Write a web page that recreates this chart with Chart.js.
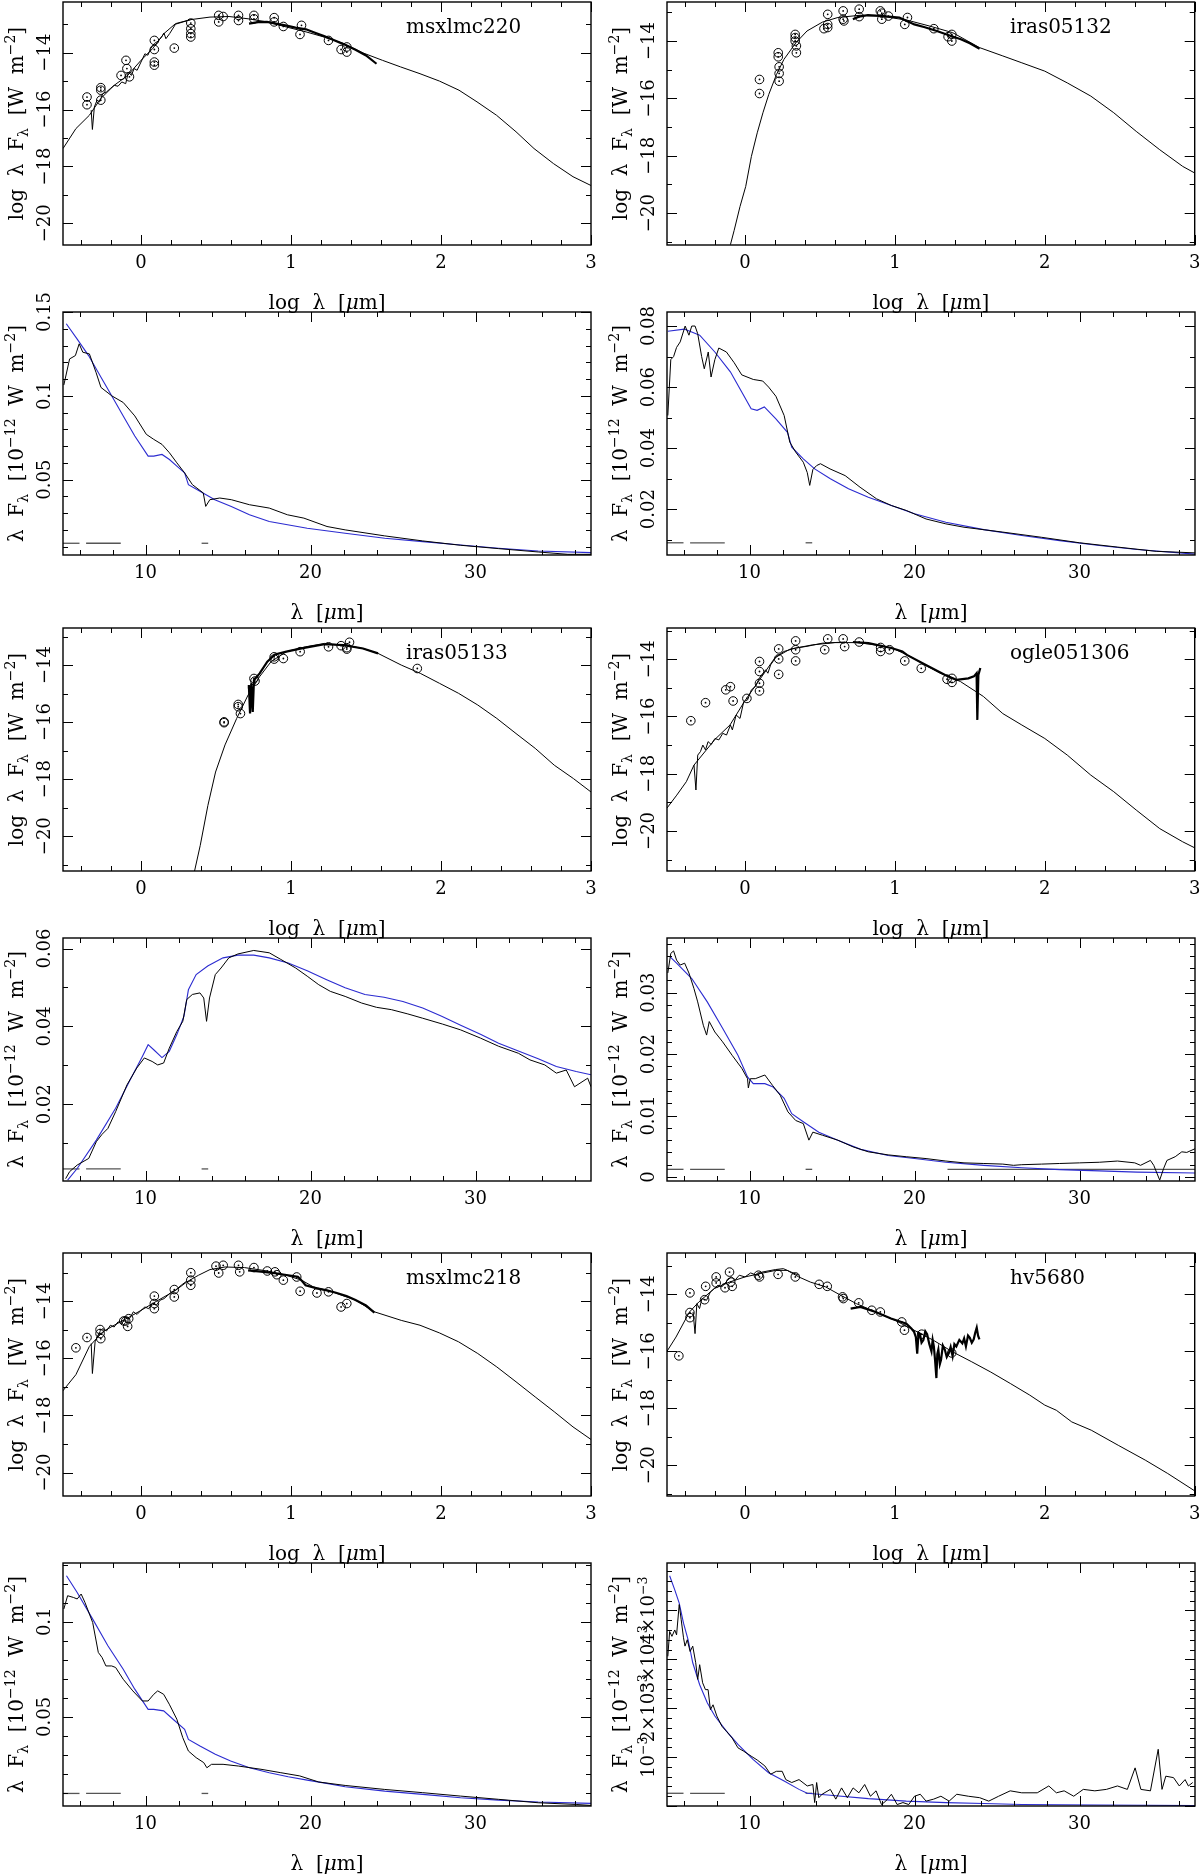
<!DOCTYPE html>
<html>
<head>
<meta charset="utf-8">
<script src="https://cdn.jsdelivr.net/npm/chart.js@4.4.1/dist/chart.umd.min.js"></script>
<style>
body { margin: 0; background: #fff; }
#wrap { position: relative; width: 1200px; height: 1876px; overflow: hidden; background: #fff; }
canvas { position: absolute; }
</style>
</head>
<body>
<div id="wrap"></div>
<script>
// ---- axis ticks / labels ----
const sedXTicks = [0, 1, 2, 3];
const sedXLabels = ['0', '1', '2', '3'];
const sedYTicks = [-20, -18, -16, -14];
const sedYLabels = ['−20', '−18', '−16', '−14'];
const specXTicks = [10, 20, 30];
const specXLabels = ['10', '20', '30'];

// ---- msxlmc220 : SED ----
const msx220Model = [[-0.52,-17.37],[-0.434,-16.67],[-0.344,-16.2],[-0.268,-15.61],[-0.179,-15.15],[-0.089,-14.8],[0,-14.27],[0.077,-13.86],[0.153,-13.33],[0.23,-12.98],[0.33,-12.84],[0.46,-12.75],[0.587,-12.73],[0.714,-12.81],[0.84,-12.92],[0.97,-13.1],[1.1,-13.27],[1.22,-13.45],[1.35,-13.68],[1.48,-14.01],[1.61,-14.27],[1.73,-14.5],[1.86,-14.74],[1.99,-15.0],[2.12,-15.32],[2.24,-15.73],[2.37,-16.2],[2.5,-16.78],[2.62,-17.37],[2.75,-17.9],[2.88,-18.36],[3.0,-18.67]];
const msx220Low = [[-0.332,-16.02],[-0.324,-16.7],[-0.311,-15.91],[-0.293,-15.67],[-0.276,-15.73],[-0.255,-15.44],[-0.23,-15.38],[-0.204,-15.26],[-0.179,-15.15],[-0.153,-15.18],[-0.128,-15.03],[-0.102,-15.09],[-0.084,-14.68],[-0.064,-14.8],[-0.046,-14.56],[-0.026,-14.62],[0,-14.33],[0.026,-14.04],[0.046,-14.09],[0.064,-13.86],[0.089,-13.68],[0.115,-13.59],[0.14,-13.43],[0.153,-13.31],[0.166,-13.51],[0.191,-13.33],[0.23,-13.0],[0.281,-12.92],[0.332,-12.84]];
const msx220Irs = [[0.72,-12.98],[0.78,-12.93],[0.84,-12.92],[0.9,-12.98],[0.97,-13.05],[1.03,-13.12],[1.1,-13.18],[1.16,-13.3],[1.22,-13.42],[1.28,-13.55],[1.35,-13.7],[1.43,-13.9],[1.5,-14.1],[1.57,-14.39]];
const msx220Phot = [[-0.36,-15.56],[-0.36,-15.83],[-0.268,-15.23],[-0.268,-15.32],[-0.268,-15.67],[-0.133,-14.8],[-0.1,-14.27],[-0.094,-14.56],[-0.077,-14.85],[0.089,-13.57],[0.089,-13.89],[0.089,-14.33],[0.089,-14.44],[0.222,-13.84],[0.332,-12.96],[0.332,-13.16],[0.332,-13.33],[0.332,-13.45],[0.518,-12.69],[0.518,-12.92],[0.548,-12.73],[0.65,-12.69],[0.65,-12.87],[0.753,-12.69],[0.753,-12.81],[0.888,-12.77],[0.888,-12.92],[0.949,-13.08],[1.07,-13.04],[1.06,-13.36],[1.25,-13.57],[1.334,-13.89],[1.372,-13.8],[1.372,-13.98]];

// ---- iras05132 : SED ----
const iras132Model = [[-0.097,-21.1],[-0.072,-20.6],[-0.033,-19.77],[0.005,-19.07],[0.043,-18.02],[0.082,-17.2],[0.12,-16.5],[0.159,-15.86],[0.21,-15.17],[0.26,-14.64],[0.34,-14.06],[0.414,-13.65],[0.517,-13.34],[0.62,-13.18],[0.772,-13.1],[0.926,-13.15],[1.08,-13.27],[1.233,-13.48],[1.386,-13.71],[1.565,-14.23],[1.72,-14.52],[1.847,-14.76],[2.0,-15.05],[2.15,-15.46],[2.307,-15.92],[2.46,-16.5],[2.61,-17.15],[2.767,-17.79],[2.92,-18.37],[3.0,-18.6]];
const iras132Irs = [[0.72,-13.24],[0.76,-13.15],[0.82,-13.1],[0.9,-13.12],[1.03,-13.18],[1.13,-13.42],[1.2,-13.52],[1.28,-13.65],[1.36,-13.8],[1.44,-13.94],[1.5,-14.08],[1.565,-14.27]];
const iras132Phot = [[0.097,-15.34],[0.097,-15.83],[0.222,-14.41],[0.222,-14.55],[0.228,-14.9],[0.228,-15.13],[0.228,-15.4],[0.335,-13.77],[0.335,-13.88],[0.335,-14.0],[0.343,-14.17],[0.343,-14.41],[0.527,-13.57],[0.552,-13.07],[0.552,-13.42],[0.552,-13.53],[0.655,-12.95],[0.655,-13.24],[0.66,-13.3],[0.762,-12.89],[0.762,-13.15],[0.903,-12.95],[0.913,-13.03],[0.913,-13.24],[0.957,-13.13],[1.066,-13.42],[1.084,-13.18],[1.26,-13.57],[1.355,-13.85],[1.38,-13.77],[1.38,-14.0]];

// ---- iras05133 : SED ----
const iras133Model = [[0.357,-21.22],[0.395,-20.32],[0.446,-18.92],[0.497,-17.75],[0.56,-16.8],[0.638,-15.87],[0.714,-15.05],[0.79,-14.41],[0.867,-13.88],[0.969,-13.53],[1.097,-13.36],[1.224,-13.24],[1.352,-13.3],[1.48,-13.42],[1.58,-13.59],[1.735,-14.0],[1.862,-14.29],[1.99,-14.64],[2.117,-14.99],[2.245,-15.4],[2.372,-15.87],[2.5,-16.4],[2.628,-16.92],[2.755,-17.51],[2.883,-17.98],[3.0,-18.45]];
const iras133Irs = [[0.714,-14.82],[0.719,-14.7],[0.727,-15.7],[0.735,-14.64],[0.745,-15.64],[0.753,-14.53],[0.791,-14.29],[0.842,-13.88],[0.893,-13.63],[0.969,-13.53],[1.046,-13.44],[1.097,-13.39],[1.224,-13.27],[1.352,-13.3],[1.48,-13.42],[1.58,-13.59]];
const iras133Phot = [[0.554,-15.99],[0.554,-16.02],[0.648,-15.38],[0.648,-15.46],[0.663,-15.7],[0.753,-14.47],[0.76,-14.56],[0.888,-13.71],[0.888,-13.79],[0.949,-13.77],[1.061,-13.53],[1.25,-13.36],[1.334,-13.32],[1.372,-13.39],[1.372,-13.44],[1.39,-13.2],[1.842,-14.12]];

// ---- ogle051306 : SED ----
const ogleModel = [[-0.52,-19.2],[-0.455,-18.75],[-0.391,-18.28],[-0.34,-17.7],[-0.2,-16.8],[-0.1,-16.3],[0,-15.45],[0.1,-14.7],[0.2,-13.95],[0.3,-13.65],[0.45,-13.5],[0.6,-13.42],[0.75,-13.42],[0.9,-13.52],[1.0,-13.65],[1.1,-13.9],[1.2,-14.2],[1.3,-14.48],[1.437,-14.78],[1.59,-15.3],[1.72,-15.9],[1.847,-16.3],[2.0,-16.77],[2.15,-17.35],[2.307,-18.05],[2.46,-18.63],[2.61,-19.27],[2.767,-19.92],[2.92,-20.38],[3.0,-20.59]];
const ogleLow = [[-0.34,-17.7],[-0.327,-18.57],[-0.315,-17.35],[-0.297,-17.23],[-0.281,-17.0],[-0.263,-17.17],[-0.246,-16.88],[-0.225,-16.98],[-0.2,-16.77],[-0.174,-16.82],[-0.148,-16.59],[-0.123,-16.65],[-0.097,-16.3],[-0.084,-16.47],[-0.059,-15.95],[-0.033,-16.07],[-0.008,-15.48],[0.018,-15.42],[0.043,-15.07],[0.069,-14.96],[0.095,-14.67],[0.12,-14.49],[0.138,-14.37],[0.153,-14.49],[0.171,-14.2],[0.21,-13.91],[0.26,-13.73],[0.338,-13.61],[0.414,-13.55],[0.517,-13.44],[0.67,-13.4]];
const ogleIrs = [[0.72,-13.4],[0.824,-13.44],[0.977,-13.61],[1.05,-13.73],[1.08,-13.85],[1.207,-14.2],[1.335,-14.55],[1.41,-14.72],[1.49,-14.67],[1.527,-14.6],[1.545,-14.49],[1.55,-16.12],[1.557,-14.55],[1.57,-14.31]];
const oglePhot = [[-0.361,-16.15],[-0.263,-15.52],[-0.128,-15.07],[-0.097,-14.96],[-0.079,-15.46],[0.013,-15.37],[0.097,-14.08],[0.097,-14.43],[0.097,-14.84],[0.097,-15.11],[0.225,-13.64],[0.225,-13.99],[0.225,-14.53],[0.338,-13.36],[0.338,-13.67],[0.338,-14.06],[0.532,-13.67],[0.552,-13.29],[0.655,-13.29],[0.665,-13.56],[0.762,-13.4],[0.905,-13.59],[0.905,-13.73],[0.964,-13.67],[1.066,-14.06],[1.176,-14.32],[1.348,-14.7],[1.381,-14.67],[1.381,-14.81]];

// ---- msxlmc218 : SED ----
const msx218Model = [[-0.523,-17.15],[-0.434,-16.57],[-0.344,-15.58],[-0.255,-15.07],[-0.179,-14.84],[-0.077,-14.55],[0,-14.32],[0.077,-14.08],[0.153,-13.85],[0.23,-13.62],[0.306,-13.32],[0.383,-13.09],[0.46,-12.89],[0.56,-12.8],[0.689,-12.82],[0.842,-12.94],[0.969,-13.09],[1.07,-13.26],[1.15,-13.5],[1.276,-13.67],[1.43,-13.96],[1.556,-14.37],[1.735,-14.67],[1.86,-14.84],[1.99,-15.11],[2.117,-15.42],[2.245,-15.83],[2.372,-16.3],[2.5,-16.82],[2.628,-17.35],[2.755,-17.87],[2.88,-18.4],[3.0,-18.84]];
const msx218Low = [[-0.332,-15.48],[-0.324,-16.53],[-0.306,-15.42],[-0.291,-15.25],[-0.276,-15.07],[-0.255,-14.96],[-0.23,-15.04],[-0.204,-14.84],[-0.179,-14.9],[-0.153,-14.72],[-0.128,-14.78],[-0.102,-14.55],[-0.077,-14.61],[-0.051,-14.37],[-0.026,-14.46],[0,-14.32],[0.026,-14.2],[0.051,-14.26],[0.077,-14.06],[0.102,-14.14],[0.128,-13.96],[0.153,-13.91],[0.179,-13.79],[0.204,-13.67],[0.23,-13.61],[0.268,-13.44],[0.306,-13.29]];
const msx218Irs = [[0.714,-12.92],[0.8,-12.96],[0.893,-13.02],[0.97,-13.08],[1.046,-13.14],[1.075,-13.3],[1.097,-13.44],[1.173,-13.55],[1.24,-13.62],[1.3,-13.7],[1.37,-13.82],[1.43,-13.96],[1.5,-14.15],[1.556,-14.4]];
const msx218Phot = [[-0.434,-15.63],[-0.36,-15.27],[-0.273,-14.99],[-0.273,-15.13],[-0.268,-15.31],[-0.115,-14.69],[-0.102,-14.69],[-0.089,-14.88],[-0.082,-14.61],[0.089,-13.82],[0.089,-14.08],[0.089,-14.26],[0.222,-13.59],[0.222,-13.85],[0.332,-13.0],[0.332,-13.26],[0.332,-13.44],[0.5,-12.77],[0.518,-13.01],[0.548,-12.74],[0.65,-12.74],[0.658,-12.97],[0.753,-12.82],[0.842,-12.94],[0.893,-12.97],[0.906,-13.07],[0.949,-13.26],[1.038,-13.15],[1.061,-13.65],[1.173,-13.71],[1.25,-13.67],[1.334,-14.2],[1.372,-14.08]];

// ---- hv5680 : SED ----
const hvModel = [[-0.52,-16.0],[-0.46,-15.5],[-0.37,-14.62],[-0.308,-14.27],[-0.205,-13.8],[-0.103,-13.57],[0,-13.39],[0.103,-13.27],[0.205,-13.16],[0.282,-13.16],[0.359,-13.39],[0.436,-13.57],[0.538,-13.74],[0.641,-14.04],[0.744,-14.33],[0.872,-14.62],[1.0,-14.91],[1.128,-15.26],[1.256,-15.61],[1.385,-16.02],[1.513,-16.37],[1.64,-16.73],[1.77,-17.13],[1.9,-17.54],[2.0,-17.89],[2.077,-18.07],[2.18,-18.48],[2.31,-18.77],[2.49,-19.3],[2.67,-19.82],[2.82,-20.29],[3.0,-20.9]];
const hvLow = [[-0.346,-14.62],[-0.333,-15.38],[-0.321,-14.33],[-0.303,-14.5],[-0.287,-14.15],[-0.256,-14.21],[-0.231,-13.92],[-0.205,-13.8],[-0.18,-13.68],[-0.154,-13.74],[-0.115,-13.5],[-0.09,-13.39],[-0.064,-13.49],[-0.038,-13.33],[0,-13.39],[0.038,-13.25],[0.077,-13.33],[0.115,-13.22],[0.154,-13.18],[0.205,-13.13],[0.256,-13.1],[0.308,-13.22],[0.359,-13.33]];
const hvIrs = [[0.705,-14.5],[0.77,-14.44],[0.872,-14.62],[0.974,-14.85],[1.077,-15.03],[1.11,-15.2],[1.128,-15.32],[1.14,-15.5],[1.149,-16.08],[1.158,-15.35],[1.167,-15.38],[1.178,-15.7],[1.19,-15.61],[1.203,-15.3],[1.215,-15.4],[1.23,-15.75],[1.244,-16.0],[1.252,-15.6],[1.26,-15.83],[1.268,-16.3],[1.277,-16.94],[1.283,-16.1],[1.29,-15.94],[1.3,-16.45],[1.308,-16.3],[1.32,-15.8],[1.333,-15.94],[1.346,-16.2],[1.36,-16.06],[1.372,-15.85],[1.385,-16.17],[1.397,-15.75],[1.41,-15.83],[1.43,-15.6],[1.45,-15.72],[1.462,-15.55],[1.474,-15.83],[1.488,-15.45],[1.5,-15.53],[1.513,-15.7],[1.526,-15.58],[1.536,-15.35],[1.546,-15.17],[1.555,-15.45],[1.564,-15.58]];
const hvPhot = [[-0.441,-16.16],[-0.367,-13.95],[-0.367,-14.64],[-0.367,-14.82],[-0.269,-14.19],[-0.262,-13.72],[-0.192,-13.39],[-0.192,-13.6],[-0.133,-13.77],[-0.103,-13.22],[-0.095,-13.57],[-0.085,-13.72],[0.09,-13.33],[0.097,-13.39],[0.221,-13.3],[0.336,-13.39],[0.495,-13.65],[0.549,-13.72],[0.651,-14.09],[0.656,-14.15],[0.759,-14.3],[0.846,-14.56],[0.903,-14.62],[1.046,-14.97],[1.064,-15.26],[1.179,-15.4],[1.379,-16.06]];

// ---- IRS spectra (black) and model (blue) ----
const msx220Obs = [[5.05,0.1064],[5.4,0.122],[5.75,0.124],[5.98,0.131],[6.2,0.126],[6.6,0.125],[7.0,0.114],[7.3,0.105],[7.95,0.1],[8.65,0.096],[9.35,0.088],[10.05,0.077],[10.5,0.074],[11.0,0.071],[11.45,0.066],[11.9,0.06],[12.37,0.054],[12.84,0.047],[13.5,0.042],[13.65,0.034],[13.9,0.038],[14.5,0.039],[15.2,0.038],[16.3,0.035],[17.5,0.033],[18.6,0.029],[19.6,0.027],[21,0.022],[22.1,0.02],[24.5,0.0164],[26.8,0.0134],[29.1,0.0108],[31.4,0.0088],[33.8,0.0068],[35.6,0.0054],[37,0.0054]];
const msx220Fit = [[5.2,0.143],[5.85,0.134],[6.55,0.124],[7.25,0.112],[7.95,0.1],[8.65,0.088],[9.35,0.076],[10.16,0.064],[10.5,0.064],[11.0,0.065],[11.45,0.062],[11.9,0.058],[12.37,0.054],[12.6,0.047],[13.3,0.043],[14.2,0.038],[15.2,0.034],[16.3,0.029],[17.5,0.025],[19.8,0.021],[22.1,0.018],[24.5,0.015],[26.8,0.013],[29.1,0.011],[31.4,0.009],[33.8,0.0074],[37,0.0064]];
const iras132Obs = [[5.05,0.0507],[5.23,0.069],[5.4,0.07],[5.58,0.073],[5.8,0.0748],[6.1,0.08],[6.33,0.077],[6.5,0.08],[6.7,0.08],[6.86,0.0775],[7.1,0.07],[7.26,0.066],[7.5,0.0715],[7.67,0.0633],[7.9,0.069],[8.14,0.0728],[8.6,0.0715],[9.07,0.068],[9.53,0.064],[10.23,0.0625],[10.8,0.062],[11.16,0.06],[11.6,0.057],[12.1,0.0507],[12.44,0.042],[12.8,0.0387],[13.26,0.0354],[13.5,0.032],[13.65,0.0278],[13.84,0.033],[14.07,0.0343],[14.3,0.0349],[14.88,0.0332],[15.8,0.031],[16.7,0.0272],[17.7,0.0234],[18.6,0.0212],[19.5,0.0196],[20.7,0.0168],[21.9,0.0152],[23.0,0.0141],[25.35,0.0125],[27.7,0.0108],[30,0.009],[32.3,0.0076],[34.65,0.0062],[37,0.0057]];
const iras132Fit = [[5.05,0.0783],[6.05,0.079],[6.98,0.077],[7.9,0.0715],[8.84,0.065],[9.53,0.0584],[10.1,0.0529],[10.46,0.0524],[10.9,0.0535],[11.6,0.0496],[12.3,0.0452],[12.56,0.0403],[13.26,0.0365],[13.95,0.0332],[14.9,0.03],[16.0,0.0267],[17.2,0.0239],[18.6,0.0212],[20,0.0185],[21.9,0.0157],[24.2,0.0133],[26.5,0.0114],[28.8,0.0097],[31.2,0.0081],[33.5,0.0068],[37,0.0053]];
const iras133Obs = [[5.16,0.0009],[5.4,0.0027],[5.86,0.0044],[6.56,0.0061],[7.02,0.0104],[7.37,0.0123],[7.72,0.0138],[8.19,0.0181],[8.88,0.025],[9.47,0.0293],[9.93,0.0319],[10.4,0.031],[10.74,0.0301],[11.1,0.0306],[11.44,0.0344],[11.9,0.0387],[12.26,0.0413],[12.5,0.0469],[12.84,0.0482],[13.3,0.0486],[13.53,0.0473],[13.7,0.0413],[13.88,0.0473],[14.23,0.0533],[14.58,0.055],[15.05,0.0576],[15.6,0.0586],[16.56,0.0595],[17.5,0.0589],[18.2,0.0572],[19.1,0.055],[19.8,0.0529],[20.5,0.0507],[21.2,0.049],[22.1,0.0477],[23.1,0.046],[24.0,0.0449],[24.9,0.0443],[25.9,0.0432],[26.8,0.0421],[28,0.0406],[29.1,0.0391],[30.3,0.037],[31.4,0.0349],[32.6,0.0331],[33.3,0.0314],[34.2,0.0301],[34.9,0.028],[35.5,0.0288],[36.0,0.0245],[36.8,0.0267],[37,0.0245]];
const iras133Fit = [[5.28,0.0005],[5.86,0.0035],[7.02,0.0108],[8.19,0.019],[9.12,0.0267],[9.81,0.0323],[10.16,0.0353],[10.5,0.034],[11.0,0.032],[11.44,0.0336],[11.9,0.0379],[12.33,0.0426],[12.6,0.0494],[13.07,0.0533],[13.77,0.0555],[14.7,0.0576],[15.6,0.0583],[16.56,0.0583],[17.5,0.0576],[18.65,0.0563],[19.8,0.0543],[20.98,0.052],[22.1,0.0499],[23.3,0.0482],[24.46,0.0475],[25.6,0.0464],[26.8,0.0447],[27.95,0.0426],[29.1,0.0403],[30.3,0.038],[31.4,0.0357],[32.6,0.0337],[33.8,0.0317],[34.9,0.0297],[36.1,0.0284],[37,0.0276]];
const ogleObs = [[5.05,0.0332],[5.23,0.0364],[5.4,0.0368],[5.58,0.0353],[5.8,0.0345],[6.07,0.0348],[6.33,0.0332],[6.63,0.0307],[6.86,0.0285],[7.2,0.0247],[7.4,0.0231],[7.56,0.0253],[7.9,0.0236],[8.37,0.022],[8.95,0.0198],[9.53,0.0177],[9.88,0.016],[9.93,0.0145],[10.05,0.016],[10.35,0.016],[10.93,0.0166],[11.4,0.0149],[11.86,0.0133],[12.33,0.0106],[12.8,0.0092],[13.26,0.0087],[13.6,0.006],[13.84,0.0073],[14.42,0.0068],[15.35,0.006],[16.28,0.0049],[17.2,0.0041],[18.4,0.0036],[19.5,0.0033],[20.7,0.003],[21.9,0.0026],[23.0,0.0023],[24.2,0.0022],[25.35,0.0021],[26.0,0.0019],[26.5,0.002],[27.7,0.0021],[28.8,0.0022],[30,0.0023],[31.2,0.0024],[32.3,0.0026],[33.35,0.0023],[33.7,0.0019],[34.3,0.0027],[34.5,0.0019],[34.86,-0.0005],[35.1,0.0014],[35.3,0.0027],[35.8,0.0033],[36.2,0.0041],[36.5,0.004],[37,0.0046]];
const ogleFit = [[5.16,0.0359],[5.58,0.0348],[6.5,0.0323],[7.44,0.0285],[8.37,0.0242],[9.3,0.0198],[9.88,0.0163],[10.23,0.0152],[10.93,0.0152],[11.4,0.0147],[12.1,0.0128],[12.56,0.0103],[13.26,0.009],[14.2,0.0073],[15.35,0.006],[16.74,0.0045],[18.4,0.0035],[20,0.003],[21.9,0.0024],[24.2,0.0019],[26.5,0.0015],[28.8,0.0012],[31.2,0.001],[33.5,0.0008],[37,0.00065]];
const msx218Obs = [[5.05,0.1067],[5.28,0.1137],[5.63,0.1128],[5.86,0.112],[6.1,0.1146],[6.33,0.1102],[6.8,0.0996],[7.14,0.0839],[7.37,0.0812],[7.6,0.0768],[7.95,0.0768],[8.19,0.076],[8.65,0.0698],[9.23,0.0637],[9.81,0.0584],[10.16,0.0584],[10.5,0.0619],[10.74,0.0637],[11.1,0.0619],[11.44,0.0567],[11.9,0.0488],[12.26,0.0391],[12.6,0.0321],[13.07,0.0286],[13.53,0.026],[13.72,0.0233],[14.0,0.0251],[14.7,0.0251],[15.63,0.0242],[17.0,0.0225],[18.2,0.0207],[19.35,0.019],[20.5,0.0158],[22.1,0.014],[24.5,0.0119],[26.8,0.0102],[29.1,0.0084],[31.4,0.0067],[33.8,0.0049],[36.1,0.004],[37,0.0035]];
const msx218Fit = [[5.21,0.1242],[5.86,0.1154],[6.8,0.1014],[7.72,0.0874],[8.65,0.0751],[9.35,0.0646],[10.16,0.054],[10.5,0.054],[11.1,0.0532],[11.67,0.0488],[12.37,0.0435],[12.6,0.0382],[13.3,0.0347],[14.23,0.0304],[15.16,0.0268],[16.3,0.0233],[17.5,0.0207],[18.65,0.0186],[19.8,0.0168],[20.98,0.0151],[22.1,0.0133],[24.5,0.011],[26.8,0.0093],[29.1,0.0075],[31.4,0.0063],[33.8,0.0053],[37,0.0046]];
const hvObs = [[5.05,0.00306],[5.16,0.00357],[5.3,0.00347],[5.47,0.0036],[5.58,0.0035],[5.74,0.00412],[5.86,0.00381],[6.0,0.00344],[6.09,0.00327],[6.23,0.0034],[6.4,0.00316],[6.56,0.00327],[6.74,0.00293],[6.86,0.00259],[6.98,0.00289],[7.16,0.00252],[7.33,0.00238],[7.49,0.00238],[7.63,0.00197],[7.79,0.00207],[8.02,0.00184],[8.33,0.00163],[8.6,0.00153],[8.95,0.00139],[9.3,0.00119],[9.65,0.00112],[10.1,0.00102],[10.47,0.00094],[10.93,0.00082],[11.28,0.00065],[11.63,0.00071],[11.98,0.00071],[12.2,0.00054],[12.56,0.00048],[13.0,0.00054],[13.5,0.00041],[13.84,0.00044],[13.95,0.00007],[14.07,0.00048],[14.2,0.00017],[14.4,0.00024],[14.9,0.00034],[15.23,0.00014],[15.58,0.00037],[15.93,0.00017],[16.28,0.00037],[16.63,0.00027],[16.98,0.00044],[17.33,0.0002],[17.67,0.00031],[18.0,0.00003],[18.26,0.0001],[18.6,0.00024],[18.95,0.00003],[19.3,0.00007],[19.65,0.00003],[20,0.0002],[20.35,0.00024],[20.7,0.0001],[21.16,0.00014],[21.6,0.0002],[22.1,0.0001],[22.56,0.00024],[23.26,0.0002],[23.95,0.00017],[24.5,0.0001],[25.1,0.0002],[25.8,0.00031],[26.5,0.00027],[27.44,0.00027],[28.14,0.00041],[28.6,0.00027],[29.07,0.00031],[29.65,0.0002],[30.23,0.00034],[30.93,0.00031],[31.63,0.00034],[32.3,0.00041],[32.9,0.00034],[33.37,0.00078],[33.72,0.00034],[34.3,0.00031],[34.77,0.00116],[35.0,0.00034],[35.23,0.00061],[35.7,0.00058],[36.05,0.00041],[36.4,0.00054],[36.6,0.00041],[36.86,0.00048]];
const hvFit = [[5.16,0.00471],[5.47,0.00442],[5.74,0.00415],[6.0,0.00374],[6.28,0.0034],[6.56,0.00293],[6.98,0.00248],[7.44,0.00211],[7.9,0.00184],[8.6,0.00153],[9.3,0.00126],[10.23,0.00095],[11.16,0.00068],[12.1,0.00051],[13.0,0.00034],[13.5,0.00026],[14.9,0.00022],[17.2,0.00015],[19.5,0.0001],[21.9,0.00007],[24.2,0.00005],[26.5,0.00003],[31.2,0.00002],[37,0.00001]];
// short grey level marks near the bottom of the spectra (x extents)
const levelSegs = [[5.0, 6.0], [6.4, 8.5], [13.4, 13.8]];

const rowTops = [2, 312, 628, 938, 1253, 1563];
const FONT = '"DejaVu Serif"';

function parseRich(s) {
  const out = [];
  const re = /([_^~])\{([^}]*)\}/g;
  let last = 0, m;
  while ((m = re.exec(s))) {
    if (m.index > last) out.push([s.slice(last, m.index), 0]);
    out.push([m[2], m[1] === '^' ? 1 : m[1] === '_' ? -1 : 2]);
    last = re.lastIndex;
  }
  if (last < s.length) out.push([s.slice(last), 0]);
  return out;
}

function drawRich(ctx, s, x, y, size, rot) {
  const segs = parseRich(s);
  const fnt = d => (d === 2 ? 'italic ' : '') + ((d === 1 || d === -1) ? size * 0.7 : size) + 'px ' + FONT;
  ctx.save();
  ctx.translate(x, y);
  if (rot) ctx.rotate(rot);
  ctx.textAlign = 'left';
  ctx.textBaseline = 'alphabetic';
  let w = 0;
  const ws = segs.map(([t, d]) => { ctx.font = fnt(d); const m = ctx.measureText(t).width; w += m; return m; });
  let cx = -w / 2;
  segs.forEach(([t, d], i) => {
    ctx.font = fnt(d);
    const dy = d === 1 ? -size * 0.42 : d === -1 ? size * 0.22 : 0;
    ctx.fillText(t, cx, size * 0.36 + dy);
    cx += ws[i];
  });
  ctx.restore();
}

function steps(min, max, st) {
  const out = [];
  for (let i = Math.ceil(min / st - 1e-6); i <= Math.floor(max / st + 1e-6); i++) out.push(i * st);
  return out;
}
const isMajor = (v, mj) => Math.abs(v / mj - Math.round(v / mj)) < 1e-6;

const framePlugin = {
  id: 'frame',
  afterDraw(chart) {
    const o = chart.options.plugins.frame;
    const { ctx, chartArea: a } = chart;
    const sx = chart.scales.x, sy = chart.scales.y;
    ctx.save();
    ctx.strokeStyle = '#000';
    ctx.lineWidth = 1;
    ctx.beginPath();
    steps(sx.min, sx.max, o.xMinor).forEach(v => {
      const px = Math.round(sx.getPixelForValue(v)) + 0.5;
      const len = isMajor(v, o.xMajor) ? 10 : 5;
      ctx.moveTo(px, a.bottom); ctx.lineTo(px, a.bottom - len);
      ctx.moveTo(px, a.top); ctx.lineTo(px, a.top + len);
    });
    steps(sy.min, sy.max, o.yMinor).forEach(v => {
      const py = Math.round(sy.getPixelForValue(v)) + 0.5;
      const len = isMajor(v, o.yMajor) ? 10 : 5;
      ctx.moveTo(a.left, py); ctx.lineTo(a.left + len, py);
      ctx.moveTo(a.right, py); ctx.lineTo(a.right - len, py);
    });
    ctx.stroke();
    ctx.lineWidth = 1.4;
    ctx.strokeRect(a.left, a.top, a.right - a.left, a.bottom - a.top);
    ctx.fillStyle = '#000';
    o.xTicks.forEach((v, i) => drawRich(ctx, o.xLabels[i], sx.getPixelForValue(v), a.bottom + 17, 18, 0));
    o.yTicks.forEach((v, i) => drawRich(ctx, o.yLabels[i], a.left - 19, sy.getPixelForValue(v), 18, -Math.PI / 2));
    drawRich(ctx, o.xTitle, (a.left + a.right) / 2, a.bottom + 57, 20, 0);
    drawRich(ctx, o.yTitle, a.left - 47, (a.top + a.bottom) / 2, 20, -Math.PI / 2);
    if (o.name) {
      ctx.font = '20px ' + FONT;
      ctx.textAlign = 'left';
      ctx.textBaseline = 'middle';
      ctx.fillText(o.name, a.left + 343, a.top + 26);
    }
    ctx.restore();
  }
};

const pts = arr => arr.map(([x, y]) => ({ x, y }));
const lineDs = (arr, color, width) => ({ type: 'line', data: pts(arr), borderColor: color, borderWidth: width, pointRadius: 0, fill: false, tension: 0 });

function sedPanel(row, col, name, yMin, yMax, model, low, irs, phot) {
  const ds = [
    { type: 'scatter', data: pts(phot), pointRadius: 4.3, pointBorderColor: '#000', pointBackgroundColor: 'rgba(0,0,0,0)', pointBorderWidth: 1 },
    { type: 'scatter', data: pts(phot), pointRadius: 0.9, pointBorderWidth: 0, pointBackgroundColor: '#000' },
    lineDs(irs, '#000', 2.2)
  ];
  if (low) ds.push(lineDs(low, '#000', 1));
  ds.push(lineDs(model, '#000', 1));
  makeChart(row, col, ds, {
    xMin: -0.52, xMax: 3.0, yMin, yMax,
    frame: { xMinor: 0.2, xMajor: 1, yMinor: 1, yMajor: 2, xTicks: sedXTicks, xLabels: sedXLabels, yTicks: sedYTicks, yLabels: sedYLabels,
      xTitle: 'log  λ  [~{μ}m]', yTitle: 'log  λ  F_{λ}  [W  m^{−2}]', name }
  });
}

function specPanel(row, col, yMin, yMax, yTicks, yLabels, yMinor, yMajor, obs, fit, level, levelLong) {
  const ds = [lineDs(obs, '#000', 1), lineDs(fit, '#2b2bd0', 1.1)];
  levelSegs.forEach(([a, b]) => ds.push(lineDs([[a, level], [b, level]], '#555', 1.3)));
  if (levelLong) ds.push(lineDs([[levelLong, level], [37, level]], '#555', 1.3));
  makeChart(row, col, ds, {
    xMin: 5, xMax: 37, yMin, yMax,
    frame: { xMinor: 2, xMajor: 10, yMinor, yMajor, xTicks: specXTicks, xLabels: specXLabels, yTicks, yLabels,
      xTitle: 'λ  [~{μ}m]', yTitle: 'λ  F_{λ}  [10^{−12}  W  m^{−2}]' }
  });
}

function makeChart(row, col, datasets, o) {
  const cv = document.createElement('canvas');
  cv.width = 600; cv.height = 360;
  cv.style.left = (col * 600) + 'px';
  cv.style.top = (rowTops[row] - 30) + 'px';
  document.getElementById('wrap').appendChild(cv);
  new Chart(cv, {
    type: 'scatter',
    data: { datasets },
    options: {
      responsive: false, animation: false, devicePixelRatio: 1,
      layout: { padding: { left: col ? 67 : 63, right: col ? 5 : 9, top: 30, bottom: 87 } },
      scales: {
        x: { type: 'linear', min: o.xMin, max: o.xMax, display: false },
        y: { type: 'linear', min: o.yMin, max: o.yMax, display: false }
      },
      plugins: { legend: { display: false }, tooltip: { enabled: false }, frame: o.frame }
    },
    plugins: [framePlugin]
  });
}

sedPanel(0, 0, 'msxlmc220', -20.76, -12.22, msx220Model, msx220Low, msx220Irs, msx220Phot);
sedPanel(0, 1, 'iras05132', -21.11, -12.64, iras132Model, null, iras132Irs, iras132Phot);
specPanel(1, 0, 0.005, 0.15, [0.05, 0.1, 0.15], ['0.05', '0.1', '0.15'], 0.01, 0.05, msx220Obs, msx220Fit, 0.012);
specPanel(1, 1, 0.005, 0.0846, [0.02, 0.04, 0.06, 0.08], ['0.02', '0.04', '0.06', '0.08'], 0.01, 0.02, iras132Obs, iras132Fit, 0.009);
sedPanel(2, 0, 'iras05133', -21.22, -12.7, iras133Model, null, iras133Irs, iras133Phot);
sedPanel(2, 1, 'ogle051306', -21.4, -12.91, ogleModel, ogleLow, ogleIrs, oglePhot);
specPanel(3, 0, 0.0003, 0.0627, [0.02, 0.04, 0.06], ['0.02', '0.04', '0.06'], 0.01, 0.02, iras133Obs, iras133Fit, 0.0034);
specPanel(3, 1, -0.00065, 0.0389, [0, 0.01, 0.02, 0.03], ['0', '0.01', '0.02', '0.03'], 0.002, 0.01, ogleObs, ogleFit, 0.00125, 22);
sedPanel(4, 0, 'msxlmc218', -20.82, -12.31, msx218Model, msx218Low, msx218Irs, msx218Phot);
sedPanel(4, 1, 'hv5680', -21.08, -12.55, hvModel, hvLow, hvIrs, hvPhot);
specPanel(5, 0, 0.0032, 0.1309, [0.05, 0.1], ['0.05', '0.1'], 0.01, 0.05, msx218Obs, msx218Fit, 0.0098);
specPanel(5, 1, 0, 0.00497, [0.001, 0.002, 0.003, 0.004], ['10^{−3}', '2×10^{−3}', '3×10^{−3}', '4×10^{−3}'], 0.0002, 0.001, hvObs, hvFit, 0.00026);
</script>
</body>
</html>
